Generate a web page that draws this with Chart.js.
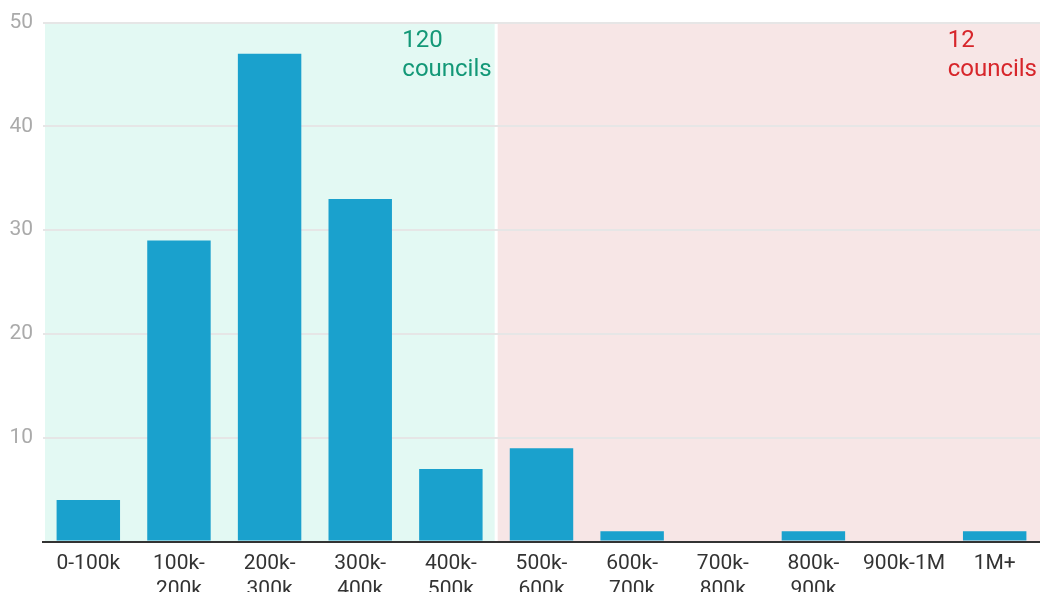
<!DOCTYPE html>
<html>
<head>
<meta charset="utf-8">
<script src="https://cdn.jsdelivr.net/npm/chart.js@4"></script>
<style>
  html, body { margin: 0; padding: 0; background: #fff; overflow: hidden; }
  #wrap { position: relative; width: 1040px; height: 604px; }
</style>
</head>
<body>
<div id="wrap"><canvas id="chart"></canvas></div>
<script>
const categories = [
  '0-100k', ['100k-', '200k'], ['200k-', '300k'], ['300k-', '400k'], ['400k-', '500k'],
  ['500k-', '600k'], ['600k-', '700k'], ['700k-', '800k'], ['800k-', '900k'], '900k-1M', '1M+'
]
const councils = [4, 29, 47, 33, 7, 9, 1, 0, 1, 0, 1]
const yTicks = [10, 20, 30, 40, 50]
const groups = [
  { from: 0, to: 4, lines: ['120', 'councils'], fill: '#e3f9f3', text: '#139877' },
  { from: 5, to: 10, lines: ['12', 'councils'], fill: '#f7e6e6', text: '#d7262b' }
]

const FONT = 'Roboto, "Noto Sans", sans-serif'

const groupPlugin = {
  id: 'groups',
  beforeDraw(chart) {
    const { ctx, chartArea, scales } = chart
    const x = scales.x, y = scales.y
    const top = y.getPixelForValue(50)
    const bottom = y.getPixelForValue(0)
    const half = (x.getPixelForValue(1) - x.getPixelForValue(0)) / 2
    ctx.save()
    groups.forEach((g, i) => {
      let left = i === 0 ? chartArea.left + 2 : x.getPixelForValue(g.from) - half + 1.5
      let right = i === groups.length - 1 ? chartArea.right : x.getPixelForValue(g.to) + half - 1.5
      ctx.fillStyle = g.fill
      ctx.fillRect(left, top, right - left, bottom - top)
    })
    ctx.restore()
  },
  afterDatasetsDraw(chart) {
    const { ctx, chartArea, scales } = chart
    const x = scales.x, y = scales.y
    const top = y.getPixelForValue(50)
    const half = (x.getPixelForValue(1) - x.getPixelForValue(0)) / 2
    ctx.save()
    ctx.font = '24px ' + FONT
    ctx.textBaseline = 'top'
    ctx.textAlign = 'left'
    groups.forEach((g, i) => {
      let right = i === groups.length - 1 ? chartArea.right : x.getPixelForValue(g.to) + half - 1.5
      const w = Math.max(...g.lines.map(l => ctx.measureText(l).width))
      const left = right - w - 3
      ctx.fillStyle = g.text
      g.lines.forEach((l, k) => ctx.fillText(l, left, top + 6 + k * 29))
    })
    ctx.restore()
  }
}

new Chart(document.getElementById('chart'), {
  type: 'bar',
  data: {
    labels: categories,
    datasets: [{
      data: councils,
      backgroundColor: '#1aa1cd',
      borderWidth: 0,
      barPercentage: 0.7,
      categoryPercentage: 1
    }]
  },
  options: {
    responsive: true,
    maintainAspectRatio: false,
    animation: false,
    layout: { padding: { top: 10, right: 0, left: 0, bottom: 0 } },
    plugins: {
      legend: { display: false },
      tooltip: { enabled: false }
    },
    scales: {
      x: {
        grid: { display: false },
        border: { color: '#333', width: 2 },
        ticks: {
          color: '#333',
          font: { family: FONT, size: 21 },
          maxRotation: 0,
          autoSkip: false,
          padding: 2
        }
      },
      y: {
        min: 0,
        max: 50,
        border: { display: false },
        grid: { color: '#e6e6e6', drawTicks: false, lineWidth: 2 },
        afterBuildTicks(axis) {
          axis.ticks = [0, ...yTicks].map(v => ({ value: v }))
        },
        afterFit(axis) {
          axis.width = 43
        },
        ticks: {
          color: '#aaa',
          font: { family: FONT, size: 21 },
          padding: 10,
          callback: v => v === 0 ? '' : v
        }
      }
    }
  },
  plugins: [groupPlugin]
})
</script>
</body>
</html>
